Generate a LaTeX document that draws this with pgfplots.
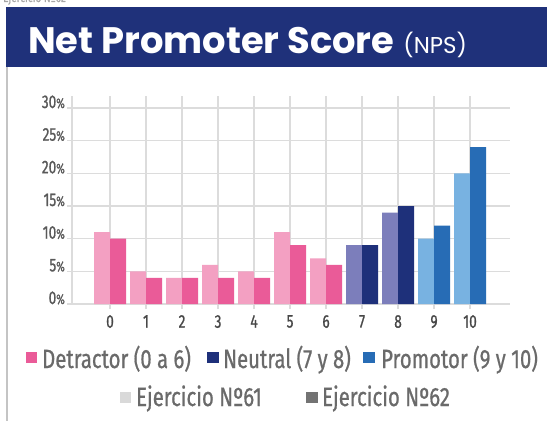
\documentclass[border=0pt]{standalone}
\usepackage{pgfplots}
\pgfplotsset{compat=1.18}
\usepackage{fontspec}
\setmainfont{Fira Sans}
\newfontfamily\cond{Fira Sans}[FakeStretch=0.77, FakeBold=0.7]
\newfontfamily\condt{Fira Sans}[FakeStretch=0.74, FakeBold=0.9]
\newfontfamily\titlefont{Poppins}
\definecolor{banner}{HTML}{1F317A}
\definecolor{leftline}{HTML}{C4C4C4}
\definecolor{gridc}{HTML}{DCDCDC}
\definecolor{pinkL}{HTML}{F3A0C2}
\definecolor{pinkD}{HTML}{EA5B98}
\definecolor{purL}{HTML}{7C7EBB}
\definecolor{navy}{HTML}{1E307A}
\definecolor{blueL}{HTML}{78B2E1}
\definecolor{blueD}{HTML}{276CB5}
\definecolor{legtext}{HTML}{6A6A6A}
\newcommand\pct{{\fontsize{14}{14}\selectfont\%}}
\begin{document}
\begin{tikzpicture}[x=1bp,y=1bp]
\useasboundingbox (0,0) rectangle (547,421);
\fill[white] (0,0) rectangle (547,421);
\node[anchor=base west, inner sep=0, text=gray!70, font=\cond\fontsize{13}{13}\selectfont] at (3,419) {Ejercicio Nº62};
\fill[banner] (6,354) rectangle (547,414);
\fill[leftline] (6,0) rectangle (8,354);
\node[anchor=base west, inner sep=0, text=white] at (28,368) {\titlefont\bfseries\fontsize{37}{37}\selectfont Net Promoter Score\hspace{9bp}\fontsize{23}{23}\selectfont\mdseries (NPS)};
\begin{axis}[
  at={(72bp,117bp)}, anchor=south west, scale only axis,
  width=438bp, height=208bp,
  xmin=-1.056, xmax=11.11, ymin=0, ymax=31.84,
  xtick={0,...,10}, ytick={0,5,...,30},
  xticklabels={0,1,2,3,4,5,6,7,8,9,10},
  yticklabels={0\pct,5\pct,10\pct,15\pct,20\pct,25\pct,30\pct},
  grid=major, grid style={draw=gridc, line width=1.2pt},
  axis x line*=bottom, axis y line*=left,
  axis line style={draw=gridc, line width=1.2pt, -},
  tick style={draw=gridc, line width=1.2pt},
  major tick length=5bp, tick align=outside,
  yticklabel style={anchor=base east, inner sep=0pt, xshift=-2bp, text=black!65, font=\condt\fontsize{18.5}{18.5}\selectfont},
  xticklabel style={anchor=north, inner sep=0pt, yshift=-6bp, text=black!72, font=\condt\fontsize{18.5}{18.5}\selectfont},
]
\addplot[ybar, bar width=0.444, bar shift=-0.222, fill=pinkL, draw=none] coordinates {(0,11)(1,5)(2,4)(3,6)(4,5)(5,11)(6,7)};
\addplot[ybar, bar width=0.444, bar shift=0.222, fill=pinkD, draw=none] coordinates {(0,10)(1,4)(2,4)(3,4)(4,4)(5,9)(6,6)};
\addplot[ybar, bar width=0.444, bar shift=-0.222, fill=purL, draw=none] coordinates {(7,9)(8,14)};
\addplot[ybar, bar width=0.444, bar shift=0.222, fill=navy, draw=none] coordinates {(7,9)(8,15)};
\addplot[ybar, bar width=0.444, bar shift=-0.222, fill=blueL, draw=none] coordinates {(9,10)(10,20)};
\addplot[ybar, bar width=0.444, bar shift=0.222, fill=blueD, draw=none] coordinates {(9,12)(10,24)};
\end{axis}
% legend
\begin{scope}[every node/.style={anchor=base west, inner sep=0pt, text=legtext, font=\cond\fontsize{26.5}{26.5}\selectfont}]
\fill[pinkD] (26,58) rectangle (37,69);
\node at (42,53) {Detractor (0 a 6)};
\fill[navy] (207,58) rectangle (219,69);
\node at (223,53) {Neutral (7 y 8)};
\fill[blueD] (363,58) rectangle (375,69);
\node at (381,53) {Promotor (9 y 10)};
\fill[black!15] (120,18) rectangle (131,29);
\node at (136,15) {Ejercicio Nº61};
\fill[black!55] (306,18) rectangle (318,29);
\node at (322,15) {Ejercicio Nº62};
\end{scope}
\end{tikzpicture}
\end{document}
